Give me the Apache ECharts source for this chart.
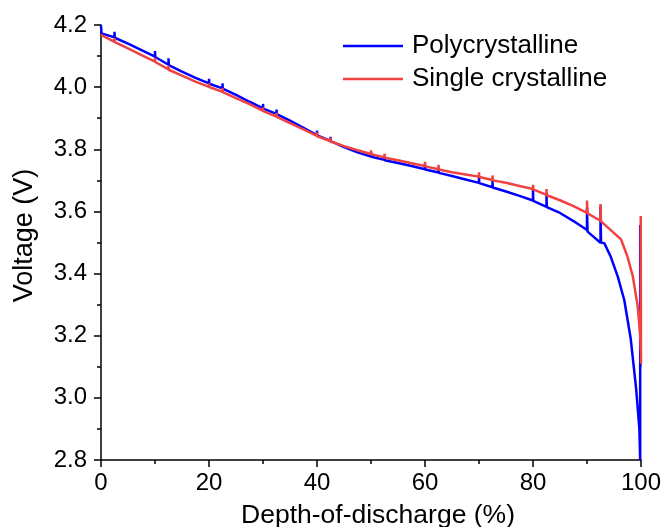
<!DOCTYPE html>
<html><head><meta charset="utf-8">
<script src="https://cdn.jsdelivr.net/npm/echarts@6/dist/echarts.min.js"></script>
<style>html,body{margin:0;padding:0;background:#fff}#c{width:665px;height:527px}</style>
</head><body><div id="c"></div>
<script>
// Tick labels
const xTicks = [0, 20, 40, 60, 80, 100];
const yTicks = [2.8, 3.0, 3.2, 3.4, 3.6, 3.8, 4.0, 4.2];
const seriesNames = ['Polycrystalline', 'Single crystalline'];

// Polycrystalline: depth-of-discharge (%) and voltage (V)
const polyDod = [0,0.1,2.5,2.5,2.55,5,7.5,10,10,10.05,12.5,12.5,12.55,15,17.5,20,20,20.05,22.5,22.5,22.55,25,27.5,30,30,30.05,32.5,32.5,32.55,35,37.5,40,40,40.05,42.5,42.5,42.55,45,47.5,50,50,50.05,52.5,52.5,52.55,55,57.5,60,60,60.05,62.5,62.5,62.55,65,67.5,70,70,70.05,72.5,72.5,72.55,75,77.5,80,80,80.05,82.5,82.5,82.55,85,87.5,90,90,90.1,92.5,92.5,92.6,93.2,94.4,95.7,96.9,98.1,99.1,99.7,99.85,99.85,99.9];
const polyV = [4.198,4.173,4.160,4.178,4.159,4.140,4.119,4.098,4.116,4.097,4.072,4.093,4.071,4.050,4.030,4.012,4.027,4.011,3.996,4.012,3.995,3.975,3.953,3.932,3.946,3.931,3.914,3.928,3.913,3.892,3.869,3.846,3.860,3.845,3.827,3.840,3.826,3.807,3.790,3.777,3.790,3.776,3.766,3.779,3.765,3.756,3.746,3.736,3.752,3.735,3.725,3.742,3.724,3.714,3.703,3.692,3.712,3.691,3.678,3.700,3.677,3.664,3.650,3.635,3.670,3.634,3.615,3.660,3.614,3.595,3.569,3.540,3.612,3.535,3.499,3.615,3.499,3.498,3.454,3.390,3.315,3.190,3.030,2.900,2.800,3.556,3.100];

// Single crystalline
const singleDod = [0,2.5,2.5,2.55,5,7.5,10,10,10.05,12.5,12.5,12.55,15,17.5,20,20,20.05,22.5,22.5,22.55,25,27.5,30,30,30.05,32.5,32.5,32.55,35,37.5,40,40,40.05,42.5,42.5,42.55,45,47.5,50,50,50.05,52.5,52.5,52.55,55,57.5,60,60,60.05,62.5,62.5,62.55,65,67.5,70,70,70.05,72.5,72.5,72.55,75,77.5,80,80,80.05,82.5,82.5,82.55,85,87.5,90,90,90.1,92.5,92.5,92.6,94.4,96.3,97.5,98.5,99.4,99.85,99.95,99.95,100];
const singleV = [4.168,4.146,4.158,4.145,4.125,4.103,4.082,4.094,4.081,4.057,4.069,4.056,4.037,4.018,4.001,4.012,4.000,3.985,3.997,3.984,3.965,3.945,3.924,3.935,3.923,3.905,3.917,3.904,3.884,3.864,3.843,3.855,3.842,3.826,3.838,3.825,3.810,3.797,3.785,3.797,3.784,3.774,3.786,3.773,3.765,3.755,3.746,3.760,3.745,3.736,3.750,3.735,3.726,3.719,3.712,3.726,3.711,3.701,3.716,3.700,3.692,3.682,3.672,3.686,3.671,3.653,3.672,3.652,3.636,3.617,3.595,3.635,3.594,3.570,3.624,3.568,3.540,3.510,3.454,3.390,3.293,3.200,3.150,3.585,3.110];

const zip = (a, b) => a.map((v, i) => [v, b[i]]);
const FONT = 'Liberation Sans';
const chart = echarts.init(document.getElementById('c'), null, {renderer: 'canvas'});
chart.setOption({
  animation: false,
  backgroundColor: '#fff',
  textStyle: {fontFamily: FONT, color: '#000'},
  grid: {left: 101, right: 24, top: 25, bottom: 67, containLabel: false, outerBoundsMode: 'none'},
  legend: {
    orient: 'vertical', left: 338, top: 28, itemWidth: 60, itemHeight: 2.5, itemGap: 7,
    icon: 'rect',
    textStyle: {fontFamily: FONT, fontSize: 26, color: '#000', lineHeight: 26, padding: [0,0,0,4]},
    data: seriesNames
  },
  xAxis: {
    type: 'value', min: xTicks[0], max: xTicks[xTicks.length-1], interval: 20,
    name: 'Depth-of-discharge (%)', nameLocation: 'middle', nameGap: 42,
    nameTextStyle: {fontFamily: FONT, fontSize: 26.5, color: '#000', padding: [0,0,0,14]},
    axisLine: {show: true, lineStyle: {color: '#000', width: 1.5}},
    axisTick: {show: true, inside: false, length: 7, lineStyle: {color: '#000', width: 1.5}},
    minorTick: {show: true, splitNumber: 2, length: 4, lineStyle: {color: '#000', width: 1.5}},
    axisLabel: {fontFamily: FONT, fontSize: 24, color: '#000', margin: 11},
    splitLine: {show: false}
  },
  yAxis: {
    type: 'value', min: yTicks[0], max: yTicks[yTicks.length-1], interval: 0.2,
    name: 'Voltage (V)', nameLocation: 'middle', nameGap: 63,
    nameTextStyle: {fontFamily: FONT, fontSize: 27, color: '#000', padding: [0,0,0,14]},
    axisLine: {show: true, lineStyle: {color: '#000', width: 1.5}},
    axisTick: {show: true, inside: false, length: 7, lineStyle: {color: '#000', width: 1.5}},
    minorTick: {show: true, splitNumber: 2, length: 4, lineStyle: {color: '#000', width: 1.5}},
    axisLabel: {fontFamily: FONT, fontSize: 24, color: '#000', margin: 14, formatter: v => v.toFixed(1)},
    splitLine: {show: false}
  },
  series: [
    {name: seriesNames[0], type: 'line', data: zip(polyDod, polyV), showSymbol: false, symbol: 'none',
     lineStyle: {color: '#0000FF', width: 2.5}, itemStyle: {color: '#0000FF'}, z: 2},
    {name: seriesNames[1], type: 'line', data: zip(singleDod, singleV), showSymbol: false, symbol: 'none',
     lineStyle: {color: '#F04242', width: 2.5}, itemStyle: {color: '#F04242'}, z: 3}
  ]
});
</script></body></html>
